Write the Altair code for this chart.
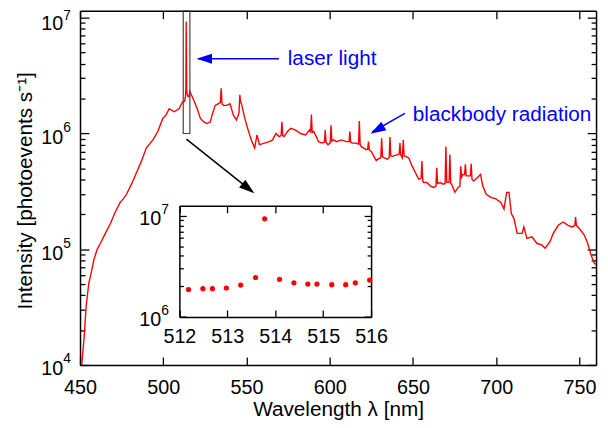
import altair as alt
import pandas as pd

FONT = "Liberation Sans"

# ---------------- data ----------------
rise_nm = [451.0, 452.4, 453.7, 455.3, 456.3, 458.3, 460.2, 462.2, 465.2, 468.2,
           471.1, 474.1, 476.0, 478.0, 480.9, 483.9, 486.9, 489.8, 493.8, 496.7,
           499.7, 501.6, 503.6, 506.6, 509.6, 511.5]
rise_I = [1.0e4, 1.69e4, 3.24e4, 5.13e4, 5.85e4, 8.1e4, 9.9e4, 1.12e5, 1.37e5, 1.66e5,
          2.09e5, 2.54e5, 2.72e5, 3.0e5, 3.65e5, 4.58e5, 5.77e5, 7.48e5, 8.8e5, 1.04e6,
          1.35e6, 1.44e6, 1.64e6, 1.54e6, 1.64e6, 1.87e6]

inset_nm = [512.19, 512.49, 512.69, 512.98, 513.28, 513.59, 513.78, 514.09,
            514.39, 514.68, 514.87, 515.18, 515.47, 515.67, 515.97]
inset_I = [1.86e6, 1.90e6, 1.90e6, 1.93e6, 2.06e6, 2.45e6, 9.29e6, 2.35e6,
           2.17e6, 2.11e6, 2.11e6, 2.08e6, 2.08e6, 2.17e6, 2.31e6]

tail_nm = [518.4, 520.4, 522.3, 524.4, 526.3, 528.3, 529.3, 531.2, 533.2, 534.3,
           534.8, 535.3, 536.2, 538.1, 540.1, 542.1, 544.0, 545.5, 546.0, 546.5,
           547.0, 549.0, 551.0, 552.9, 554.9, 556.3, 557.8, 560.8, 563.7, 565.7,
           567.7, 569.6, 570.8, 571.3, 571.8, 572.6, 574.6, 576.6, 579.5, 582.5,
           585.5, 587.8, 588.5, 589.0, 589.5, 590.4, 592.0, 593.3, 595.3, 596.8,
           597.3, 597.8, 598.9, 600.3, 600.8, 601.3, 602.2, 604.2, 607.1, 610.1,
           611.6, 612.1, 612.6, 613.7, 616.0, 617.3, 617.8, 618.3, 619.0, 622.0,
           622.8, 623.3, 623.8, 624.9, 627.9, 629.8, 630.7, 631.2, 631.7, 632.8,
           634.7, 635.7, 636.2, 636.7, 637.7, 640.6, 641.7, 642.2, 642.7, 643.6,
           644.2, 644.7, 645.6, 647.5, 649.5, 651.5, 653.5, 654.9, 655.4, 655.9,
           656.4, 658.4, 660.4, 662.3, 663.8, 664.3, 664.8, 666.3, 668.2, 669.3,
           669.8, 670.3, 671.2, 671.7, 672.2, 672.7, 673.2, 675.2, 677.1, 678.2,
           678.7, 679.2, 680.1, 681.0, 681.5, 682.0, 683.1, 684.5, 685.0, 685.5,
           686.6, 688.6, 690.6, 691.9, 693.9, 696.8, 699.8, 702.8, 704.7, 706.3,
           707.7, 709.1, 710.7, 712.6, 715.6, 716.6, 718.5, 721.5, 724.5, 727.4,
           729.4, 732.3, 734.3, 737.3, 740.2, 743.2, 745.6, 747.2, 747.7, 748.2,
           750.0, 753.0, 755.0, 757.0, 758.9, 760.3]
tail_I = [1.93e6, 1.64e6, 1.35e6, 1.26e6, 1.22e6, 1.26e6, 1.44e6, 1.75e6, 1.81e6, 1.85e6,
          2.46e6, 1.8e6, 1.75e6, 1.75e6, 1.81e6, 1.44e6, 1.31e6, 1.5e6, 2.16e6, 1.85e6,
          1.81e6, 1.35e6, 1.07e6, 8.8e5, 7.48e5, 9.7e5, 8.0e5, 8.26e5, 8.5e5, 8.8e5,
          1.0e6, 9.4e5, 9.6e5, 1.26e6, 9.6e5, 9.4e5, 1.04e6, 1.11e6, 1.07e6, 1.0e6,
          9.7e5, 1.07e6, 1.02e6, 1.46e6, 1.02e6, 1.04e6, 9.4e5, 8.5e5, 8.26e5, 8.4e5,
          1.07e6, 8.4e5, 8.0e5, 8.3e5, 1.18e6, 8.6e5, 8.8e5, 8.5e5, 8.8e5, 8.5e5,
          8.5e5, 1.04e6, 8.4e5, 8.26e5, 8.26e5, 8.1e5, 1.28e6, 8.0e5, 7.7e5, 7.25e5,
          7.3e5, 8.5e5, 7.2e5, 7.0e5, 5.85e5, 6.1e5, 6.2e5, 9.1e5, 6.3e5, 6.15e5,
          6.0e5, 6.2e5, 9.3e5, 6.4e5, 6.35e5, 6.57e5, 6.6e5, 8.26e5, 6.5e5, 6.15e5,
          8.8e5, 6.4e5, 6.35e5, 6.15e5, 5.22e5, 4.58e5, 4.03e5, 4.1e5, 5.77e5, 3.9e5,
          3.77e5, 3.77e5, 3.53e5, 3.42e5, 3.5e5, 5.06e5, 3.7e5, 3.77e5, 3.65e5, 3.7e5,
          7.73e5, 3.8e5, 3.77e5, 3.8e5, 6.57e5, 3.7e5, 3.65e5, 3.1e5, 3.42e5, 3.5e5,
          5.22e5, 4.2e5, 4.43e5, 4.4e5, 5.41e5, 4.3e5, 4.3e5, 4.3e5, 5.47e5, 4.0e5,
          3.89e5, 4.15e5, 4.43e5, 3.53e5, 3.0e5, 2.81e5, 2.72e5, 2.54e5, 2.23e5, 3.1e5,
          3.1e5, 2.03e5, 1.84e5, 1.37e5, 1.37e5, 1.56e5, 1.24e5, 1.28e5, 1.12e5, 1.09e5,
          1.02e5, 1.16e5, 1.37e5, 1.61e5, 1.72e5, 1.61e5, 1.56e5, 1.6e5, 1.9e5, 1.6e5,
          1.51e5, 1.32e5, 1.12e5, 8.9e4, 7.6e4, 7.3e4]

main_df = pd.DataFrame({"wl": rise_nm + inset_nm + tail_nm,
                        "I": rise_I + inset_I + tail_I})
inset_df = pd.DataFrame({"wl": inset_nm, "I": inset_I})

# annotations (data coordinates)
box_df = pd.DataFrame({"x": [512], "x2": [516], "y": [1e6], "y2": [1.15e7]})
text_df = pd.DataFrame({"x": [574.8, 649.9], "y": [3.91e6, 1.293e6],
                        "label": ["laser light", "blackbody radiation"]})
arrow_df = pd.DataFrame({"x": [569.5, 645.2, 513.9], "y": [4.42e6, 1.493e6, 8.95e5],
                         "x2": [521.0, 625.5, 553.5], "y2": [4.42e6, 1.03e6, 3.15e5],
                         "c": ["#0000ff", "#0000ff", "#000000"]})
head_df = pd.DataFrame({"x": [520.0, 624.5, 554.7], "y": [4.42e6, 9.94e5, 3.04e5],
                        "ang": [0, 329.4, 218.6],
                        "c": ["#0000ff", "#0000ff", "#000000"]})

# ---------------- layout ----------------
W, H = 523, 359
X_DOM = [450, 760]
Y_DOM = [1e4, 1.15e7]
MAJOR_X = [450, 500, 550, 600, 650, 700, 750]
DECADES = [1e4, 1e5, 1e6, 1e7]
LOG_TICKS = [m * 10.0 ** e for e in range(4, 7) for m in range(1, 10)] + [1e7]
IN_X = [512, 513, 514, 515, 516]
IN_LOG_TICKS = [m * 1e6 for m in range(1, 10)] + [1e7]
IX_RANGE = [100.7, 295.0]
IY_RANGE = [310.3, 197.7]
IY_DOM = [1e6, 1.25e7]

TEST_MAJOR = "abs(log(datum.value)/LN10 - round(log(datum.value)/LN10)) < 0.01"
EXP_EXPR = "'' + round(log(datum.value)/LN10)"


def xs():
    return alt.Scale(domain=X_DOM, nice=False)


def ys():
    return alt.Scale(type="log", domain=Y_DOM, nice=False)


def ixs():
    return alt.Scale(domain=[512, 516], range=IX_RANGE, nice=False)


def iys():
    return alt.Scale(type="log", domain=IY_DOM, range=IY_RANGE, nice=False)


def ax(**kw):
    base = dict(grid=False, title=None, domainColor="black", domainWidth=1.5,
                tickColor="black", tickWidth=1.3, labelFont=FONT, labelColor="black",
                labelFlush=False, labelOverlap=False, labelFontSize=20)
    base.update(kw)
    return alt.Axis(**base)


# main line with labelled axes
main_line = alt.Chart(main_df).mark_line(color="#ff0000", strokeWidth=1.4, clip=True).encode(
    x=alt.X("wl:Q", scale=xs(), axis=ax(
        orient="bottom", values=MAJOR_X, ticks=False, tickSize=0, labelPadding=13,
        title="Wavelength λ [nm]", titleFont=FONT, titleFontSize=21,
        titleFontWeight="normal", titleColor="black", titleY=51,
        titleBaseline="alphabetic")),
    y=alt.Y("I:Q", scale=ys(), axis=ax(
        orient="left", values=DECADES, labelExpr="'10'", ticks=False, tickSize=0,
        labelPadding=17.5, labelAlign="right", labelBaseline="middle",
        labelOffset={"condition": {"test": "datum.value > 5e6", "value": 6}, "value": 4},
        title="Intensity [photoevents s⁻¹]", titleFont=FONT, titleFontSize=21,
        titleFontWeight="normal", titleColor="black", titleX=-49, titleY=182,
        titleAngle=270, titleBaseline="alphabetic", titleAlign="center")),
)

# box marking the inset region; carries top and right inward ticks
box = alt.Chart(box_df).mark_rect(fillOpacity=0, stroke="#444444", strokeWidth=1.2).encode(
    x=alt.X("x:Q", scale=xs(), axis=ax(orient="bottom", offset=-H, values=MAJOR_X,
                                        labels=False, tickSize=8)),
    x2="x2:Q",
    y=alt.Y("y:Q", scale=ys(), axis=ax(orient="left", offset=-W, values=LOG_TICKS,
                                        labels=False,
                                        tickSize={"condition": {"test": TEST_MAJOR, "value": 9},
                                                  "value": 5})),
    y2="y2:Q",
)

# bottom and left inward ticks
ticks_bl = alt.Chart(main_df).mark_point(opacity=0).encode(
    x=alt.X("wl:Q", scale=xs(), axis=ax(orient="top", offset=-H, values=MAJOR_X,
                                         labels=False, tickSize=8, domain=False)),
    y=alt.Y("I:Q", scale=ys(), axis=ax(orient="right", offset=-W, values=LOG_TICKS,
                                        labels=False, domain=False,
                                        tickSize={"condition": {"test": TEST_MAJOR, "value": 9},
                                                  "value": 5})),
)

# exponents of the main y labels
exps = alt.Chart(main_df).mark_point(opacity=0).encode(
    x=alt.X("wl:Q", scale=xs(), axis=None),
    y=alt.Y("I:Q", scale=ys(), axis=ax(
        orient="left", values=DECADES, labelExpr=EXP_EXPR, ticks=False, tickSize=0,
        domain=False, labelPadding=17.5, labelAlign="left", labelBaseline="middle",
        labelFontSize=14,
        labelOffset={"condition": {"test": "datum.value > 5e6", "value": -2}, "value": -6})),
)

# annotations
rules = alt.Chart(arrow_df).mark_rule(strokeWidth=1.5).encode(
    x=alt.X("x:Q", scale=xs(), axis=None), y=alt.Y("y:Q", scale=ys(), axis=None),
    x2="x2:Q", y2="y2:Q", color=alt.Color("c:N", scale=None),
)
heads = alt.Chart(head_df).mark_point(
    shape="M0,0L2,-0.64L2,0.64Z", size=246, filled=True, opacity=1, strokeWidth=0
).encode(
    x=alt.X("x:Q", scale=xs(), axis=None), y=alt.Y("y:Q", scale=ys(), axis=None),
    angle=alt.Angle("ang:Q", scale=None), color=alt.Color("c:N", scale=None),
)
texts = alt.Chart(text_df).mark_text(
    font=FONT, fontSize=21, color="#0000ff", align="left", baseline="alphabetic"
).encode(
    x=alt.X("x:Q", scale=xs(), axis=None), y=alt.Y("y:Q", scale=ys(), axis=None),
    text="label:N",
)

# inset
inset_pts = alt.Chart(inset_df).mark_circle(size=28, color="#ff0000", opacity=1).encode(
    x=alt.X("wl:Q", scale=ixs(), axis=ax(orient="bottom", offset=-(H - IY_RANGE[0]),
                                          values=IN_X, ticks=False, tickSize=0,
                                          labelPadding=10)),
    y=alt.Y("I:Q", scale=iys(), axis=ax(orient="left", offset=-IX_RANGE[0],
                                         values=[1e6, 1e7], labelExpr="'10'",
                                         ticks=False, tickSize=0, labelPadding=19,
                                         labelAlign="right", labelBaseline="middle",
                                         labelOffset=3)),
)
inset_tr = alt.Chart(inset_df).mark_point(opacity=0).encode(
    x=alt.X("wl:Q", scale=ixs(), axis=ax(orient="bottom", offset=-(H - IY_RANGE[1]),
                                          values=IN_X, labels=False, tickSize=7)),
    y=alt.Y("I:Q", scale=iys(), axis=ax(orient="left", offset=-IX_RANGE[1],
                                         values=IN_LOG_TICKS, labels=False,
                                         tickSize={"condition": {"test": TEST_MAJOR, "value": 7},
                                                   "value": 4})),
)
inset_bl = alt.Chart(inset_df).mark_point(opacity=0).encode(
    x=alt.X("wl:Q", scale=ixs(), axis=ax(orient="top", offset=-IY_RANGE[0],
                                          values=IN_X, labels=False, tickSize=7,
                                          domain=False)),
    y=alt.Y("I:Q", scale=iys(), axis=ax(orient="right", offset=IX_RANGE[0] - W,
                                         values=IN_LOG_TICKS, labels=False, domain=False,
                                         tickSize={"condition": {"test": TEST_MAJOR, "value": 7},
                                                   "value": 4})),
)
inset_exp = alt.Chart(inset_df).mark_point(opacity=0).encode(
    x=alt.X("wl:Q", scale=ixs(), axis=None),
    y=alt.Y("I:Q", scale=iys(), axis=ax(orient="left", offset=-IX_RANGE[0],
                                         values=[1e6, 1e7], labelExpr=EXP_EXPR,
                                         ticks=False, tickSize=0, domain=False,
                                         labelPadding=19, labelAlign="left",
                                         labelBaseline="middle", labelFontSize=14,
                                         labelOffset=-6)),
)

chart = alt.layer(
    main_line, box, ticks_bl, exps, rules, heads, texts,
    inset_pts, inset_tr, inset_bl, inset_exp,
).resolve_scale(x="independent", y="independent").resolve_axis(
    x="independent", y="independent"
).properties(
    width=W, height=H,
    padding={"left": 73, "top": 0, "right": 4, "bottom": 53},
    autosize=alt.AutoSizeParams(type="none"),
    background="white",
).configure_view(strokeWidth=0)

chart.save("out.html", embed_options={"renderer": "svg", "actions": False})
